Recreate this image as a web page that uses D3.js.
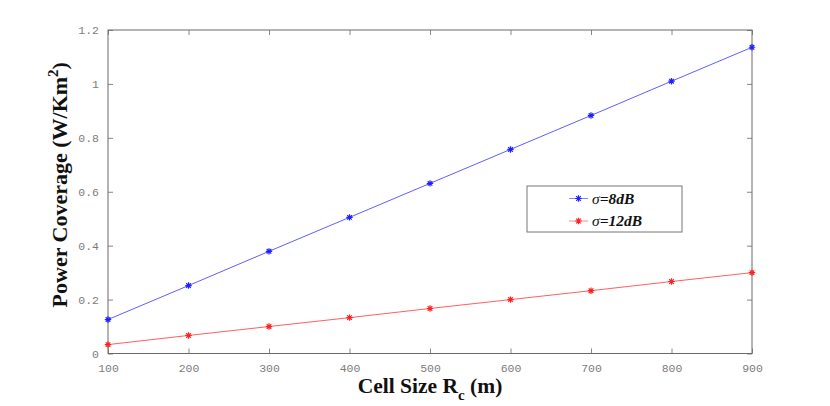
<!DOCTYPE html>
<html>
<head>
<meta charset="utf-8">
<script src="https://cdn.jsdelivr.net/npm/d3@7"></script>
<style>
  body { margin: 0; background: #fff; }
  .tick text { font-family: "Liberation Mono", "DejaVu Sans Mono", monospace; fill: #7c7c7c; }
</style>
</head>
<body>
<div id="chart"></div>
<script>
// cell size (m)
const cellSize = [100, 200, 300, 400, 500, 600, 700, 800, 900];
// power coverage (W/Km^2)
const sigma8 = [0.126, 0.252, 0.379, 0.505, 0.631, 0.757, 0.883, 1.010, 1.136];
const sigma12 = [0.033, 0.067, 0.100, 0.133, 0.167, 0.200, 0.233, 0.267, 0.300];
const xTicks = [100, 200, 300, 400, 500, 600, 700, 800, 900];
const yTicks = [0, 0.2, 0.4, 0.6, 0.8, 1, 1.2];
const legendLabels = ["8dB", "12dB"];

const series = [
  { name: legendLabels[0], values: sigma8, color: "#2020ff" },
  { name: legendLabels[1], values: sigma12, color: "#ff2020" }
];

const width = 830, height = 406;
const margin = { top: 30, right: 78, bottom: 52.5, left: 108 };

const svg = d3.select("#chart").append("svg")
  .attr("width", width)
  .attr("height", height);

svg.append("rect").attr("width", width).attr("height", height).attr("fill", "#fff");

const x = d3.scaleLinear().domain([100, 900]).range([margin.left, width - margin.right]);
const y = d3.scaleLinear().domain([0, 1.2]).range([height - margin.bottom, margin.top]);

const axisColor = "#6a6a6a";

// axes with inward ticks on all four sides
function styleAxis(g) {
  g.select(".domain").remove();
  g.selectAll(".tick line").attr("stroke", "#888");
}

svg.append("g")
  .attr("transform", `translate(0,${y(0)})`)
  .call(d3.axisBottom(x).tickValues(xTicks).tickSize(-5).tickPadding(10).tickFormat(d3.format("d")))
  .call(styleAxis)
  .call(g => g.selectAll(".tick text").attr("font-size", 11.5));

svg.append("g")
  .attr("transform", `translate(0,${y(1.2)})`)
  .call(d3.axisTop(x).tickValues(xTicks).tickSize(-5).tickFormat(""))
  .call(styleAxis);

svg.append("g")
  .attr("transform", `translate(${x(100)},0)`)
  .call(d3.axisLeft(y).tickValues(yTicks).tickSize(-5).tickPadding(9).tickFormat(d3.format("~g")))
  .call(styleAxis)
  .call(g => g.selectAll(".tick text").attr("font-size", 11.5));

svg.append("g")
  .attr("transform", `translate(${x(900)},0)`)
  .call(d3.axisRight(y).tickValues(yTicks).tickSize(-5).tickFormat(""))
  .call(styleAxis);

// box
svg.append("rect")
  .attr("x", x(100)).attr("y", y(1.2))
  .attr("width", x(900) - x(100)).attr("height", y(0) - y(1.2))
  .attr("fill", "none").attr("stroke", axisColor).attr("stroke-width", 1);

// asterisk marker
const star = "M-3.2,0H3.2M0,-3.2V3.2M-2.3,-2.3L2.3,2.3M-2.3,2.3L2.3,-2.3";

const line = d3.line().x((d, i) => x(cellSize[i])).y(d => y(d));

series.forEach(s => {
  svg.append("path")
    .datum(s.values)
    .attr("d", line)
    .attr("fill", "none")
    .attr("stroke", s.color)
    .attr("stroke-width", 0.9)
    .attr("stroke-opacity", 0.8);

  svg.append("g").selectAll("path")
    .data(s.values)
    .join("path")
    .attr("transform", (d, i) => `translate(${x(cellSize[i])},${y(d)})`)
    .attr("d", star)
    .attr("stroke", s.color)
    .attr("stroke-width", 1.2);
});

// legend
const lg = svg.append("g");
lg.append("rect")
  .attr("x", 527).attr("y", 186)
  .attr("width", 155).attr("height", 46)
  .attr("fill", "#fff").attr("stroke", "#777");

series.forEach((s, i) => {
  const ly = 198.5 + i * 22.5;
  lg.append("line")
    .attr("x1", 569).attr("x2", 588).attr("y1", ly).attr("y2", ly)
    .attr("stroke", s.color).attr("stroke-width", 0.9).attr("stroke-opacity", 0.6);
  lg.append("path")
    .attr("transform", `translate(578.5,${ly})`)
    .attr("d", star)
    .attr("stroke", s.color).attr("stroke-width", 1.2);
  const t = lg.append("text")
    .attr("x", 592).attr("y", ly + 5)
    .attr("font-family", "Liberation Serif, serif")
    .attr("font-size", 15.5)
    .attr("font-style", "italic")
    .attr("fill", "#111");
  t.append("tspan").text("σ");
  t.append("tspan").attr("font-weight", "bold").text("=" + s.name);
});

// axis titles
const xt = svg.append("text")
  .attr("x", (x(100) + x(900)) / 2)
  .attr("y", 393)
  .attr("text-anchor", "middle")
  .attr("font-family", "Liberation Serif, serif")
  .attr("font-weight", "bold")
  .attr("font-size", 21.5)
  .attr("fill", "#111");
xt.append("tspan").text("Cell Size R");
xt.append("tspan").attr("font-size", 15).attr("dy", 7).text("c");
xt.append("tspan").attr("dy", -7).text("\u00a0(m)");

const yt = svg.append("text")
  .attr("transform", `translate(67,${(y(0) + y(1.2)) / 2 - 7}) rotate(-90)`)
  .attr("text-anchor", "middle")
  .attr("font-family", "Liberation Serif, serif")
  .attr("font-weight", "bold")
  .attr("font-size", 22)
  .attr("fill", "#111");
yt.append("tspan").text("Power Coverage (W/Km");
yt.append("tspan").attr("font-size", 15).attr("dy", -9).text("2");
yt.append("tspan").attr("dy", 9).text(")");
</script>
</body>
</html>
